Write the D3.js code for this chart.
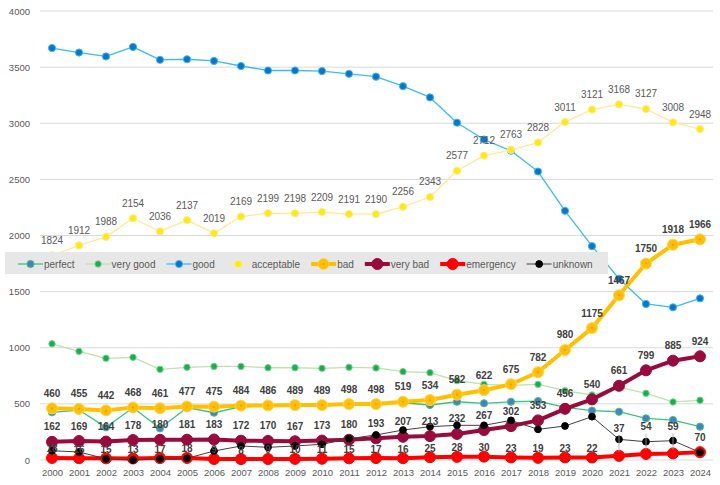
<!DOCTYPE html>
<html>
<head>
<meta charset="UTF-8">
<title>road condition by year</title>
<style>
    body { margin: 0; background: #fff; }
    svg text { font-family: "Liberation Sans", Arial, sans-serif; }
    .axis text { fill: #595959; }
    .axis path, .axis line { display: none; }
</style>
</head>
<body>
<script src="https://d3js.org/d3.v7.min.js"></script>
<script>
var years = [2000, 2001, 2002, 2003, 2004, 2005, 2006, 2007, 2008, 2009, 2010, 2011, 2012,
             2013, 2014, 2015, 2016, 2017, 2018, 2019, 2020, 2021, 2022, 2023, 2024];

var perfect    = [425, 445, 291, 466, 282, 466, 421, 475, 480, 485, 496, 495, 500,
                  510, 490, 519, 505, 519, 525, 469, 440, 430, 371, 356, 297];
var veryGood   = [1035, 968, 906, 915, 808, 826, 834, 834, 822, 822, 817, 826, 820,
                  787, 778, 707, 674, 665, 674, 617, 579, 650, 594, 517, 532];
var good       = [3670, 3630, 3595, 3680, 3565, 3570, 3555, 3510, 3470, 3470, 3465, 3440, 3415,
                  3330, 3230, 3005, 2855, 2755, 2570, 2220, 1905, 1615, 1390, 1360, 1440];
var acceptable = [1824, 1912, 1988, 2154, 2036, 2137, 2019, 2169, 2199, 2198, 2209, 2191, 2190,
                  2256, 2343, 2577, 2712, 2763, 2828, 3011, 3121, 3168, 3127, 3008, 2948];
var bad        = [460, 455, 442, 468, 461, 477, 475, 484, 486, 489, 489, 498, 498,
                  519, 534, 582, 622, 675, 782, 980, 1175, 1467, 1750, 1918, 1966];
var veryBad    = [162, 169, 164, 178, 180, 181, 183, 172, 170, 167, 173, 180, 193,
                  207, 213, 232, 267, 302, 353, 456, 540, 661, 799, 885, 924];
var emergency  = [18, 16, 15, 13, 17, 18, 9, 8, 9, 10, 11, 15, 17,
                  16, 25, 28, 30, 23, 19, 23, 22, 37, 54, 59, 70];
var unknown    = [82, 72, 10, 0, 10, 15, 80, 125, 113, 125, 140, 190, 223,
                  267, 297, 309, 309, 353, 273, 303, 386, 184, 163, 172, 68];

var yTicks = [0, 500, 1000, 1500, 2000, 2500, 3000, 3500, 4000];

var width = 720,
    height = 485;

var x = d3.scalePoint()
    .domain(years)
    .range([52, 700]);

var y = d3.scaleLinear()
    .domain([0, 4000])
    .range([460, 11]);

// draw order follows the legend; labels go on top of everything
var series = [
    {name: "perfect",    values: perfect,    line: "#3cc47c", lw: 1.3, fill: "#4a7fc4", stroke: "#3cc47c", r: 3.6},
    {name: "very good",  values: veryGood,   line: "#bfe2ab", lw: 1.3, fill: "#12b04e", stroke: "#7fd08f", r: 3.2},
    {name: "good",       values: good,       line: "#3bbcf0", lw: 1.3, fill: "#0a74c8", stroke: "#3bbcf0", r: 3.6},
    {name: "acceptable", values: acceptable, line: "#ffe89a", lw: 1.3, fill: "#ffec00", stroke: "#ffe89a", r: 3.6},
    {name: "bad",        values: bad,        line: "#ffc000", lw: 4,   fill: "#ffc000", stroke: "#ffd35a", r: 5.5, dot: "#ff8a2a"},
    {name: "very bad",   values: veryBad,    line: "#990a3d", lw: 4,   fill: "#990a3d", stroke: "#990a3d", r: 5.5},
    {name: "emergency",  values: emergency,  line: "#ff0000", lw: 4,   fill: "#ff0000", stroke: "#ff0000", r: 5.5},
    {name: "unknown",    values: unknown,    line: "#404040", lw: 1,   fill: "#000000", stroke: "#000000", r: 3.4}
];

var svg = d3.select("body").append("svg")
    .attr("width", width)
    .attr("height", height);

renderGrid(svg);
renderAxes(svg);
series.forEach(function(s){ renderSeries(svg, s); });
renderLabels(svg);
renderLegend(svg);

function points(s){
    return s.values.map(function(v, i){ return {year: years[i], value: v}; });
}

function renderGrid(svg){
    svg.append("g").selectAll("line")
        .data(yTicks)
      .enter().append("line")
        .attr("x1", 40).attr("x2", 713)
        .attr("y1", function(d){ return y(d); })
        .attr("y2", function(d){ return y(d); })
        .attr("stroke", "#d9d9d9")
        .attr("stroke-width", 1);
}

function renderAxes(svg){
    var yAxis = d3.axisLeft(y).tickValues(yTicks).tickSize(0).tickPadding(0)
        .tickFormat(d3.format("d"));
    svg.append("g")
        .attr("class", "axis")
        .attr("transform", "translate(30,0)")
        .call(yAxis)
        .selectAll("text").style("font-size", "9.5px");

    var xAxis = d3.axisBottom(x).tickSize(0).tickPadding(0);
    svg.append("g")
        .attr("class", "axis")
        .attr("transform", "translate(0,469)")
        .call(xAxis)
        .selectAll("text").style("font-size", "9.5px");
}

function renderSeries(svg, s){
    var line = d3.line()
        .x(function(d){ return x(d.year); })
        .y(function(d){ return y(d.value); });

    var g = svg.append("g");
    g.append("path")
        .datum(points(s))
        .attr("d", line)
        .attr("fill", "none")
        .attr("stroke", s.line)
        .attr("stroke-width", s.lw)
        .attr("stroke-linejoin", "round");

    g.selectAll("circle.m")
        .data(points(s))
      .enter().append("circle")
        .attr("class", "m")
        .attr("cx", function(d){ return x(d.year); })
        .attr("cy", function(d){ return y(d.value); })
        .attr("r", s.r)
        .attr("fill", s.fill)
        .attr("stroke", s.stroke)
        .attr("stroke-width", 1);

    if (s.dot) {
        g.selectAll("circle.dot")
            .data(points(s))
          .enter().append("circle")
            .attr("class", "dot")
            .attr("cx", function(d){ return x(d.year); })
            .attr("cy", function(d){ return y(d.value); })
            .attr("r", 1)
            .attr("fill", s.dot);
    }
}

function renderLabels(svg){
    var g = svg.append("g");

    function labels(values, offset, color, weight){
        var data = values.map(function(v, i){ return {year: years[i], value: v}; });
        g.append("g").selectAll("text")
            .data(data)
          .enter().append("text")
            .attr("x", function(d){ return x(d.year); })
            .attr("y", function(d){ return y(d.value) - offset(d); })
            .attr("dy", "0.35em")
            .attr("text-anchor", "middle")
            .style("font-size", "10px")
            .style("font-weight", weight)
            .attr("fill", color)
            .text(function(d){ return d.value; });
    }

    labels(acceptable, function(){ return 15; }, "#595959", "normal");
    labels(bad, function(){ return 15; }, "#404040", "bold");
    labels(veryBad, function(){ return 15; }, "#404040", "bold");

    // the last emergency labels were pulled up, with leader lines
    var lifted = function(d){
        if (d.year === 2024) return 15;
        return d.year > 2020 ? 27 : 9;
    };
    g.append("g").selectAll("line")
        .data(emergency.map(function(v, i){ return {year: years[i], value: v}; })
              .filter(function(d){ return d.year > 2020 && d.year < 2024; }))
      .enter().append("line")
        .attr("x1", function(d){ return x(d.year); })
        .attr("x2", function(d){ return x(d.year); })
        .attr("y1", function(d){ return y(d.value) - 20; })
        .attr("y2", function(d){ return y(d.value) - 4; })
        .attr("stroke", "#a6a6a6")
        .attr("stroke-width", 0.8);
    labels(emergency, lifted, "#404040", "bold");
}

function renderLegend(svg){
    var g = svg.append("g");
    g.append("rect")
        .attr("x", 5).attr("y", 252)
        .attr("width", 603).attr("height", 22)
        .attr("fill", "#e7e7e7");

    var cx = 18, cy = 264;
    series.forEach(function(s){
        var item = g.append("g");
        item.append("line")
            .attr("x1", cx).attr("x2", cx + 25)
            .attr("y1", cy).attr("y2", cy)
            .attr("stroke", s.line)
            .attr("stroke-width", s.lw);
        item.append("circle")
            .attr("cx", cx + 12.5).attr("cy", cy)
            .attr("r", s.r)
            .attr("fill", s.fill)
            .attr("stroke", s.stroke)
            .attr("stroke-width", 1);
        if (s.dot) {
            item.append("circle")
                .attr("cx", cx + 12.5).attr("cy", cy)
                .attr("r", 1).attr("fill", s.dot);
        }
        var t = item.append("text")
            .attr("x", cx + 26).attr("y", cy)
            .attr("dy", "0.35em")
            .style("font-size", "10px")
            .attr("fill", "#595959")
            .text(s.name);
        cx = cx + 26 + t.node().getComputedTextLength() + 11;
    });
}
</script>
</body>
</html>
